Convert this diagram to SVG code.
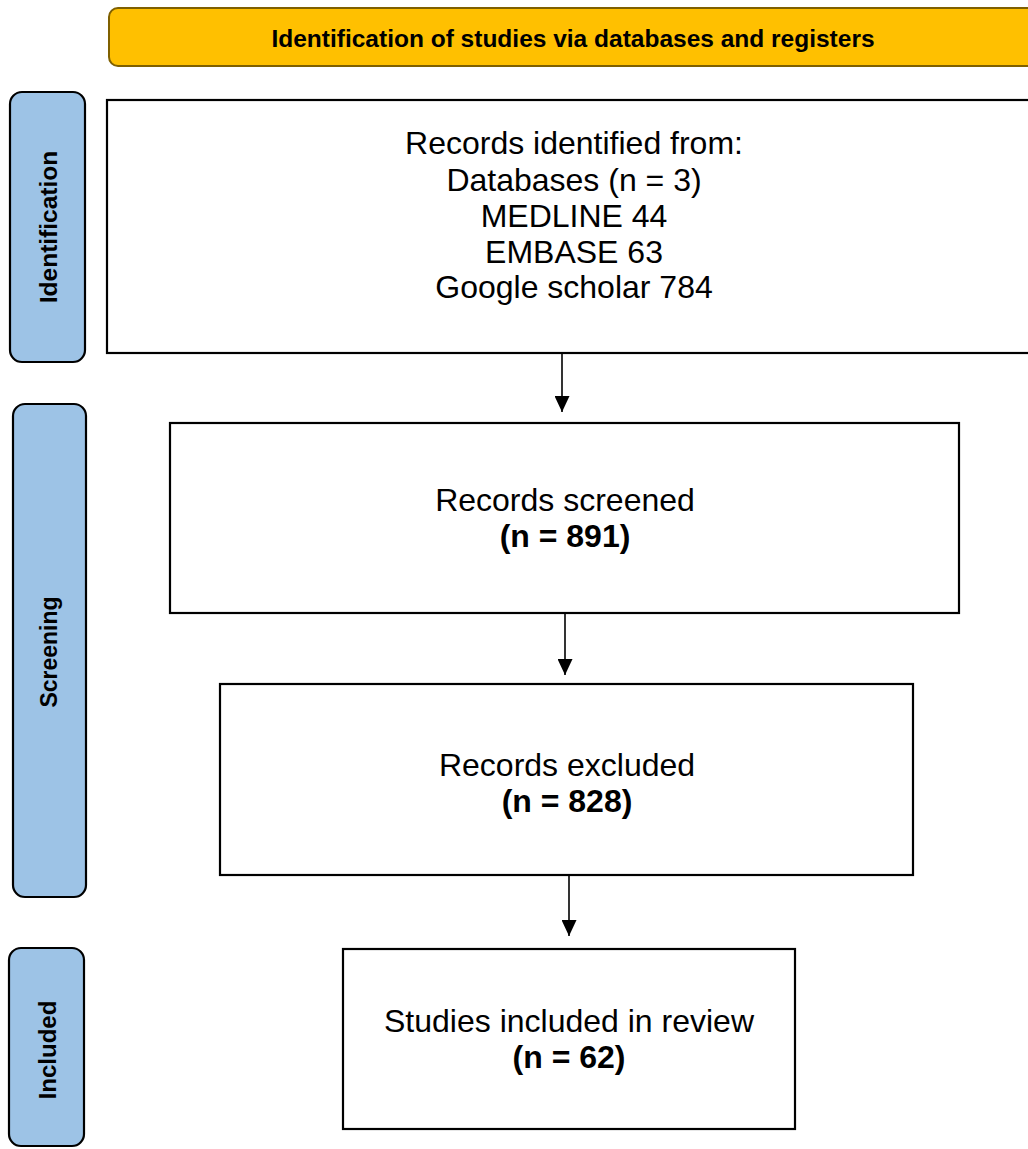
<svg xmlns="http://www.w3.org/2000/svg" width="1028" height="1149" viewBox="0 0 1028 1149">
<defs>
<style>
.box{fill:#ffffff;stroke:#000000;stroke-width:2.2}
.side{fill:#9DC3E6;stroke:#000000;stroke-width:2.2}
.t{font-family:"Liberation Sans",Arial,sans-serif;font-size:32px;fill:#000;text-anchor:middle}
.b{font-weight:bold}
.st{font-family:"Liberation Sans",Arial,sans-serif;font-size:23px;font-weight:bold;fill:#000;text-anchor:middle}
.conn{stroke:#000;stroke-width:1.6;fill:none}
</style>
<marker id="ah" viewBox="0 0 16 15" refX="16" refY="7.5" markerWidth="16" markerHeight="15" markerUnits="userSpaceOnUse" orient="auto">
<path d="M0,0 L16,7.5 L0,15 Z" fill="#000"/>
</marker>
</defs>
<rect width="1028" height="1149" fill="#ffffff"/>
<g id="header">
<rect x="109" y="8" width="940" height="58" rx="9" fill="#FFC000" stroke="#7F6000" stroke-width="2"/>
<text class="st" x="573" y="47" style="font-size:24.5px">Identification of studies via databases and registers</text>
</g>
<g id="side-identification">
<rect class="side" x="10" y="92" width="75" height="270" rx="12"/>
<text class="st" transform="translate(57,227) rotate(-90)" style="font-size:24.5px">Identification</text>
</g>
<g id="side-screening">
<rect class="side" x="13" y="404" width="73" height="493" rx="12"/>
<text class="st" transform="translate(57,652) rotate(-90)">Screening</text>
</g>
<g id="side-included">
<rect class="side" x="9" y="948" width="75" height="198" rx="12"/>
<text class="st" transform="translate(56,1050) rotate(-90)" style="font-size:24px">Included</text>
</g>
<g id="node-identified">
<rect class="box" x="107" y="100" width="940" height="253"/>
<text class="t" x="574" y="154">Records identified from:</text>
<text class="t" x="574" y="191">Databases (n = 3)</text>
<text class="t" x="574" y="227">MEDLINE 44</text>
<text class="t" x="574" y="263">EMBASE 63</text>
<text class="t" x="574" y="298">Google scholar 784</text>
</g>
<g id="node-screened">
<rect class="box" x="170" y="423" width="789" height="190"/>
<text class="t" x="565" y="511">Records screened</text>
<text class="t b" x="565" y="547">(n = 891)</text>
</g>
<g id="node-excluded">
<rect class="box" x="220" y="684" width="693" height="191"/>
<text class="t" x="567" y="776">Records excluded</text>
<text class="t b" x="567" y="812">(n = 828)</text>
</g>
<g id="node-included">
<rect class="box" x="343" y="949" width="452" height="180"/>
<text class="t" x="569" y="1032">Studies included in review</text>
<text class="t b" x="569" y="1068">(n = 62)</text>
</g>
<g id="connectors">
<line class="conn" x1="562" y1="353" x2="562" y2="412" marker-end="url(#ah)"/>
<line class="conn" x1="565" y1="613" x2="565" y2="675" marker-end="url(#ah)"/>
<line class="conn" x1="569" y1="875" x2="569" y2="936" marker-end="url(#ah)"/>
</g>
</svg>
